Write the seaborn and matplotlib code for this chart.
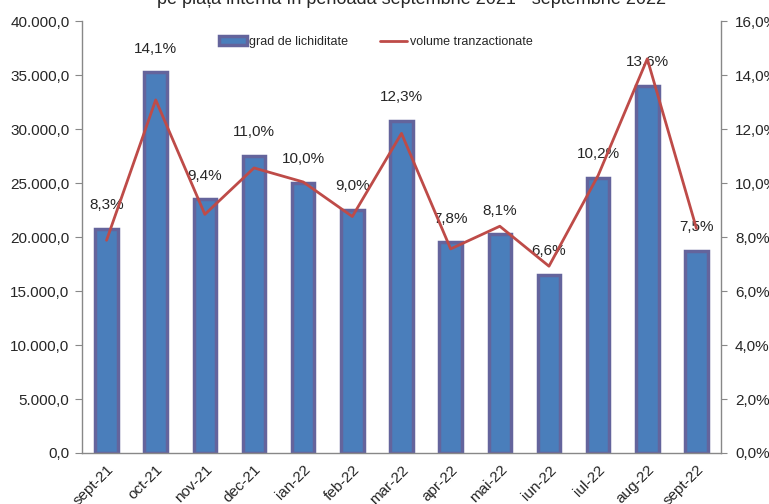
import numpy as np
import matplotlib
matplotlib.use("Agg")
import matplotlib.pyplot as plt
from matplotlib.ticker import FuncFormatter, FixedLocator, MultipleLocator
from matplotlib.patches import Patch
from matplotlib.lines import Line2D
import seaborn as sns

# data
months = ["sept-21", "oct-21", "nov-21", "dec-21", "ian-22", "feb-22", "mar-22",
          "apr-22", "mai-22", "iun-22", "iul-22", "aug-22", "sept-22"]
# grad de lichiditate (%), bars on the right axis
liquidity = [8.3, 14.1, 9.4, 11.0, 10.0, 9.0, 12.3, 7.8, 8.1, 6.6, 10.2, 13.6, 7.5]
# volume tranzactionate, line on the left axis
volume = [19700, 32700, 22100, 26400, 25100, 21900, 29600,
          18900, 21000, 17300, 25700, 36500, 20800]

sns.set_style("white")
plt.rcParams["font.family"] = ["Liberation Sans", "DejaVu Sans"]

bar_fill = "#4a7ebb"
bar_edge = "#64649c"
line_col = "#be4b48"
axis_col = "#888888"

fig = plt.figure(figsize=(7.69, 5.04), dpi=100)
ax = fig.add_axes([0.1066, 0.1012, 0.831, 0.857])
ax2 = ax.twinx()

# bars (right axis) behind, line (left axis) in front
sns.barplot(x=months, y=liquidity, ax=ax2, color=bar_fill, edgecolor=bar_edge,
            linewidth=2.5, width=0.46, saturation=1)
sns.lineplot(x=np.arange(len(months)), y=volume, ax=ax, color=line_col,
             linewidth=2.0)
ax.set_zorder(ax2.get_zorder() + 1)
ax.patch.set_visible(False)

ax.set_xlim(-0.5, len(months) - 0.5)
ax.set_ylim(0, 40000)
ax2.set_ylim(0, 16)
ax.yaxis.set_major_locator(MultipleLocator(5000))
ax2.yaxis.set_major_locator(MultipleLocator(2))


def thousands(v, pos):
    s = f"{v:,.1f}"
    return s.replace(",", "X").replace(".", ",").replace("X", ".")


def pct(v, pos=None):
    return f"{v:.1f}%".replace(".", ",")


ax.yaxis.set_major_formatter(FuncFormatter(thousands))
ax2.yaxis.set_major_formatter(FuncFormatter(pct))

# data labels above the bars
for i, v in enumerate(liquidity):
    ax2.annotate(pct(v), (i, v), xytext=(0, 12), textcoords="offset points",
                 ha="center", va="bottom", fontsize=11)

# axes styling
for a in (ax, ax2):
    for s in a.spines.values():
        s.set_color(axis_col)
        s.set_linewidth(1)
    a.spines["top"].set_visible(False)
ax.spines["right"].set_visible(False)
ax2.spines["left"].set_visible(False)
ax2.spines["bottom"].set_visible(False)

ax.tick_params(axis="y", direction="out", length=5, color=axis_col,
               labelsize=11, pad=4)
ax2.tick_params(axis="y", direction="out", length=4, color=axis_col,
                labelsize=11, pad=6)
ax.set_xticks(range(len(months)))
ax.set_xticklabels(months, rotation=45, ha="right", rotation_mode="anchor",
                   fontsize=11)
ax.tick_params(axis="x", which="major", length=0, pad=7)
ax.xaxis.set_minor_locator(FixedLocator(np.arange(0.5, len(months) - 0.5, 1)))
ax.tick_params(axis="x", which="minor", direction="out", length=5, color=axis_col)
ax.set_xlabel("")
ax.set_ylabel("")
ax2.set_ylabel("")

handles = [Patch(facecolor=bar_fill, edgecolor=bar_edge, linewidth=2.5),
           Line2D([0], [0], color=line_col, linewidth=2)]
ax.legend(handles, ["grad de lichiditate", "volume tranzactionate"], ncol=2,
          loc="center", bbox_to_anchor=(0.46, 0.951), frameon=False,
          fontsize=9, handlelength=2.2, handletextpad=0.2, columnspacing=2.5)

fig.text(0.535, 1.0, "pe piața internă în perioada septembrie 2021 - septembrie 2022",
         ha="center", va="center", fontsize=13)

fig.savefig("out.png", dpi=100)
